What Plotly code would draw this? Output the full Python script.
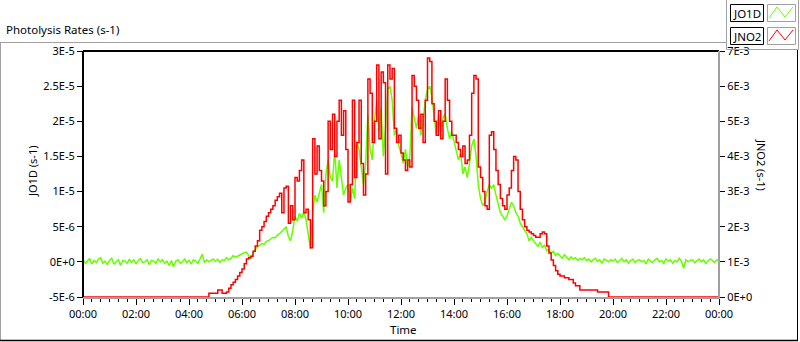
import plotly.graph_objects as go
import pandas as pd

# ---------------- data (5-minute samples, 00:00 .. 24:00) ----------------
times = pd.date_range("2024-01-01 00:00", "2024-01-02 00:00", freq="5min")

# JO1D in units of 1E-6 s-1, one list per hour
g00 = [0.3, -0.2, 0.1, 0.5, -0.3, 0.2, -0.1, 0.4, 0.6, -0.2, 0.1, -0.4]
g01 = [0.2, 0.5, -0.3, 0.0, 0.3, -0.5, 0.2, 0.1, -0.2, 0.4, -0.1, 0.3]
g02 = [-0.3, 0.2, 0.5, -0.1, 0.0, 0.3, -0.4, 0.2, 0.1, -0.2, 0.4, 0.0]
g03 = [0.3, -0.2, 0.1, -0.5, 0.2, -0.7, 0.1, 0.3, -0.2, 0.0, 0.4, -0.1]
g04 = [0.2, -0.3, 0.3, 0.1, -0.2, 0.4, 1.1, -0.1, 0.3, 0.0, 0.2, 0.4]
g05 = [0.1, 0.4, -0.1, 0.3, 0.2, 0.6, 0.3, 0.5, 0.9, 0.6, 0.8, 1.0]
g06 = [1.1, 1.3, 1.4, 0.8, 0.4, 1.2, 1.8, 2.1, 2.3, 2.6, 2.5, 2.9]
g07 = [3.0, 3.3, 3.5, 3.4, 3.8, 4.0, 4.3, 4.6, 5.0, 3.6, 3.0, 4.5]
g08 = [6.5, 5.8, 6.9, 6.2, 7.2, 6.0, 4.0, 1.8, 7.0, 9.5, 8.5, 10.0]
g09 = [11.0, 7.0, 12.5, 14.5, 12.0, 11.5, 16.0, 10.5, 14.5, 12.0, 9.5, 10.5]
g10 = [11.0, 8.5, 10.5, 9.0, 17.0, 16.0, 13.5, 11.0, 14.0, 21.0, 16.0, 14.5]
g11 = [20.0, 23.0, 18.5, 22.0, 15.0, 19.0, 24.5, 25.0, 23.0, 18.0, 19.0, 16.5]
g12 = [15.5, 14.0, 16.0, 13.5, 15.0, 22.0, 20.5, 19.0, 21.0, 18.0, 20.0, 23.0]
g13 = [24.5, 25.0, 23.5, 20.5, 18.0, 21.0, 18.5, 20.5, 21.0, 19.0, 17.5, 18.5]
g14 = [17.0, 16.0, 14.5, 15.5, 12.5, 13.5, 12.0, 14.0, 16.5, 17.5, 15.0, 11.0]
g15 = [9.0, 8.0, 8.5, 10.0, 11.0, 10.5, 11.0, 9.5, 8.0, 7.0, 6.5, 6.0]
g16 = [6.5, 7.5, 8.5, 8.0, 7.0, 6.5, 5.5, 5.0, 4.5, 4.0, 3.0, 3.5]
g17 = [3.0, 2.6, 2.2, 2.8, 2.0, 2.4, 1.6, 1.8, 1.2, 1.5, 0.9, 1.2]
g18 = [0.8, 0.5, 1.0, 0.6, 0.3, 0.7, 0.4, 0.6, 0.2, 0.5, 0.3, 0.6]
g19 = [0.2, 0.4, 0.0, 0.3, 0.5, 0.1, 0.3, -0.2, 0.4, 0.2, 0.0, 0.3]
g20 = [0.1, 0.4, -0.1, 0.2, 0.5, 0.0, 0.3, -0.2, 0.2, 0.4, -0.1, 0.2]
g21 = [0.3, 0.0, 0.2, -0.3, 0.4, 0.1, -0.1, 0.3, 0.5, 0.0, 0.2, -0.2]
g22 = [0.4, 0.1, 0.3, -0.2, 0.2, 0.0, 0.5, 0.1, -0.9, 0.3, 0.0, 0.2]
g23 = [0.3, -0.1, 0.2, 0.4, 0.0, 0.3, -0.2, 0.1, 0.4, 0.2, -0.1, 0.3]
g_end = [0.2]

# JNO2 in units of 1E-3 s-1, one list per hour
r00 = [0.0] * 12
r01 = [0.0] * 12
r02 = [0.0] * 12
r03 = [0.0] * 12
r04 = [0, 0, 0, 0, 0, 0, 0, 0, 0, 0.11, 0.11, 0.11]
r05 = [0.11, 0.2, 0.2, 0.11, 0.11, 0.14, 0.25, 0.35, 0.42, 0.5, 0.6, 0.7]
r06 = [0.8, 0.95, 1.08, 1.12, 1.16, 1.3, 1.45, 1.6, 1.9, 2.0, 2.15, 2.3]
r07 = [2.4, 2.5, 2.6, 2.75, 2.85, 2.95, 2.4, 3.1, 3.15, 2.1, 2.6, 2.2]
r08 = [3.4, 3.3, 3.6, 3.9, 2.4, 2.5, 2.2, 1.4, 4.5, 3.5, 4.3, 3.6]
r09 = [3.3, 2.6, 3.0, 5.0, 4.2, 5.2, 4.0, 5.0, 5.6, 4.6, 5.3, 4.2]
r10 = [2.7, 3.2, 5.6, 3.4, 4.4, 5.6, 3.8, 2.9, 3.5, 6.2, 5.8, 4.4]
r11 = [5.0, 6.6, 4.5, 6.4, 6.1, 3.5, 6.6, 6.2, 6.5, 4.8, 4.4, 4.6]
r12 = [4.1, 3.9, 3.6, 3.9, 3.7, 6.3, 6.0, 5.6, 4.8, 5.2, 4.4, 5.6]
r13 = [6.8, 6.7, 5.5, 5.0, 4.6, 5.3, 4.5, 5.0, 6.2, 5.6, 5.0, 4.6]
r14 = [4.6, 4.4, 4.2, 4.0, 4.3, 3.8, 3.9, 4.6, 5.8, 6.3, 6.2, 3.7]
r15 = [3.4, 3.0, 2.6, 2.5, 4.6, 4.7, 4.2, 3.6, 3.2, 2.8, 2.6, 2.5]
r16 = [2.9, 3.1, 3.6, 4.0, 3.9, 3.0, 2.5, 2.2, 2.0, 1.9, 1.85, 1.8]
r17 = [1.75, 1.7, 1.7, 1.8, 1.85, 1.8, 1.45, 1.25, 1.05, 0.9, 0.75, 0.65]
r18 = [0.6, 0.6, 0.55, 0.55, 0.5, 0.5, 0.4, 0.32, 0.32, 0.2, 0.2, 0.2]
r19 = [0.2, 0.2, 0.2, 0.2, 0.2, 0.14, 0.14, 0.14, 0.14, 0.14, 0.0, 0.0]
r20 = [0.0] * 12
r21 = [0.0] * 12
r22 = [0.0] * 12
r23 = [0.0] * 12
r_end = [0.0]

left_tickvals = [-5e-6, 0, 5e-6, 1e-5, 1.5e-5, 2e-5, 2.5e-5, 3e-5]
left_ticktext = ["-5E-6", "0E+0", "5E-6", "1E-5", "1.5E-5", "2E-5", "2.5E-5", "3E-5"]
right_tickvals = [0, 1e-3, 2e-3, 3e-3, 4e-3, 5e-3, 6e-3, 7e-3]
right_ticktext = ["0E+0", "1E-3", "2E-3", "3E-3", "4E-3", "5E-3", "6E-3", "7E-3"]

jo1d_hours = [g00, g01, g02, g03, g04, g05, g06, g07, g08, g09, g10, g11,
              g12, g13, g14, g15, g16, g17, g18, g19, g20, g21, g22, g23, g_end]
jno2_hours = [r00, r01, r02, r03, r04, r05, r06, r07, r08, r09, r10, r11,
              r12, r13, r14, r15, r16, r17, r18, r19, r20, r21, r22, r23, r_end]
jo1d = [v * 1e-6 for h in jo1d_hours for v in h]
jno2 = [v * 1e-3 for h in jno2_hours for v in h]

# ---------------- figure ----------------
W, H = 800, 342
L, R, T, B = 83, 719, 51, 298
FONT = "Noto Sans"
FS = 11

def fx(x):
    return (x - L) / (R - L)

def fy(y):
    return (B - y) / (B - T)

GREEN = "#66ff00"
RED = "#ff0000"
GRAY = "#a0a0a0"

fig = go.Figure()
fig.add_trace(go.Scatter(x=times, y=jno2, yaxis="y2", mode="lines",
                         line=dict(color=RED, width=1.5, shape="hv"),
                         name="JNO2", showlegend=False))
fig.add_trace(go.Scatter(x=times, y=jo1d, yaxis="y", mode="lines",
                         line=dict(color=GREEN, width=1.5),
                         name="JO1D", showlegend=False))

tickfont = dict(family=FONT, size=FS, color="black")

fig.update_layout(
    width=W, height=H, autosize=False,
    margin=dict(l=L, r=W - R, t=T, b=H - B, pad=0),
    paper_bgcolor="white", plot_bgcolor="white",
    font=dict(family=FONT, size=FS, color="black"),
    xaxis=dict(type="date",
               range=["2024-01-01 00:00", "2024-01-02 00:00"],
               tick0="2024-01-01 00:00", dtick=7200000, tickformat="%H:%M",
               ticks="outside", ticklen=6, tickwidth=1, tickcolor="black",
               minor=dict(dtick=1200000, tick0="2024-01-01 00:00",
                          ticks="outside", ticklen=3, tickwidth=1, tickcolor="black"),
               showgrid=False, zeroline=False, showline=False,
               tickfont=tickfont),
    yaxis=dict(range=[-5.14e-6, 3e-5], tickmode="array",
               tickvals=left_tickvals, ticktext=left_ticktext,
               ticks="outside", ticklen=5, tickcolor="black",
               showgrid=False, zeroline=False, showline=False,
               tickfont=tickfont),
    yaxis2=dict(range=[-0.028e-3, 7e-3], overlaying="y", side="right",
                tickmode="array", tickvals=right_tickvals, ticktext=right_ticktext,
                ticks="outside", ticklen=5, tickcolor="black",
                showgrid=False, zeroline=False, showline=False,
                tickfont=tickfont),
)

shapes = []

def line(x0, y0, x1, y1, color, width=1):
    shapes.append(dict(type="line", xref="paper", yref="paper",
                       x0=fx(x0), y0=fy(y0), x1=fx(x1), y1=fy(y1),
                       line=dict(color=color, width=width), layer="above"))

# plot frame
line(L, T, R, T, "black", 2)
line(L, T, L, B, "black", 2)
line(L, B, R + 1, B, GRAY, 2)
line(R, T, R, B, GRAY, 2)
# outer panel
line(0, 42.5, 726.5, 42.5, GRAY, 1)
line(0.5, 42, 0.5, 341, GRAY, 1)
line(0, 340.5, 798, 340.5, "black", 1.5)
line(797.5, 49, 797.5, 341, "black", 1)
# legend panel
line(726.5, 0, 726.5, 49.5, GRAY, 1)
line(726.5, 49.5, 798.5, 49.5, GRAY, 1)
line(798.5, 0, 798.5, 49.5, GRAY, 1)

annotations = []

def text(x, y, s, angle=0, size=FS, xanchor="center"):
    annotations.append(dict(xref="paper", yref="paper", x=fx(x), y=fy(y),
                            text=s, showarrow=False, textangle=angle,
                            xanchor=xanchor, yanchor="middle",
                            font=dict(family=FONT, size=size, color="black")))

# legend entries
for i, (lab, col) in enumerate([("JO1D", GREEN), ("JNO2", RED)]):
    dy = 23 * i
    shapes.append(dict(type="rect", xref="paper", yref="paper",
                       x0=fx(730.5), x1=fx(763.5), y0=fy(4.5 + dy), y1=fy(21.5 + dy),
                       line=dict(color="black", width=1)))
    shapes.append(dict(type="rect", xref="paper", yref="paper",
                       x0=fx(767.5), x1=fx(795.5), y0=fy(4.5 + dy), y1=fy(21.5 + dy),
                       line=dict(color=GRAY, width=1)))
    pts = [(769, 18 + dy), (777, 7 + dy), (785, 17 + dy), (793, 7 + dy)]
    path = "M " + " L ".join(f"{fx(a)},{fy(b)}" for a, b in pts)
    shapes.append(dict(type="path", xref="paper", yref="paper", path=path,
                       line=dict(color=col, width=1)))
    text(747, 13 + dy, lab, size=11.5)

text(4, 30, "Photolysis Rates (s-1)", xanchor="left", size=11.5)
text(32, 172, "JO1D (s-1)", angle=-90)
text(762, 165, "JNO2 (s-1)", angle=90)
text(403, 329, "Time", size=11.5)

fig.update_layout(shapes=shapes, annotations=annotations)
fig.write_html("out.html", config={"displayModeBar": False},
               post_script="document.body.style.margin='0px';document.body.style.overflow='hidden';")
